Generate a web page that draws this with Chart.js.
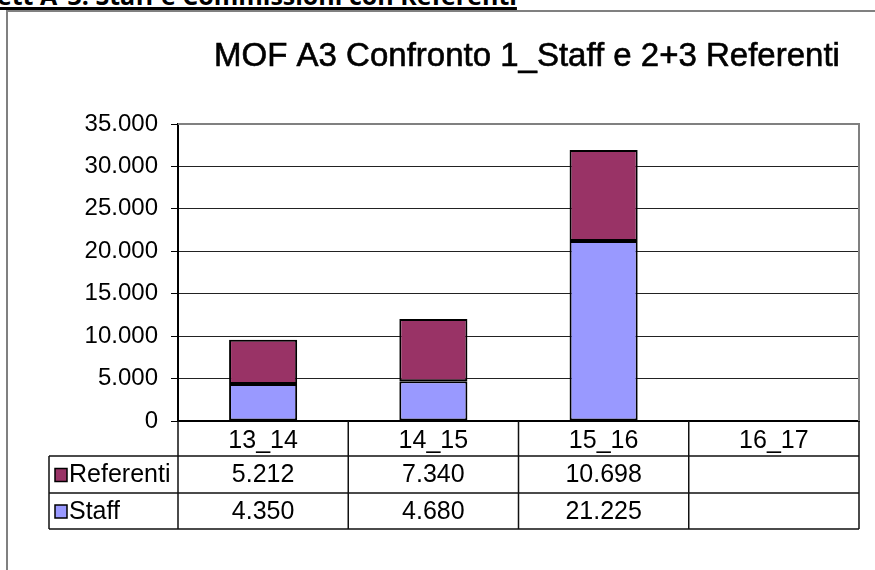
<!DOCTYPE html>
<html>
<head>
<meta charset="utf-8">
<script src="https://cdn.jsdelivr.net/npm/chart.js@4.4.1/dist/chart.umd.min.js"></script>
<style>
  html, body { margin: 0; padding: 0; background: #fff; }
  body { width: 875px; height: 570px; position: relative; overflow: hidden; }
  #heading { position: absolute; left: -3px; top: -17px; font-family: "Open Sans", sans-serif; font-weight: bold; font-size: 25px; line-height: 25px; white-space: nowrap; text-decoration: underline; text-decoration-thickness: 3px; text-underline-offset: 2px; color: #000; }
  #frame { position: absolute; left: 6px; top: 10px; width: 875px; height: 570px; border-left: 2px solid #808080; border-top: 2px solid #808080; }
  #wrap { position: absolute; left: 0; top: 0; width: 875px; height: 570px; }
</style>
</head>
<body>
<div id="frame"></div>
<div id="heading">ett A_3: Staff e Commissioni con Referenti</div>
<div id="wrap"><canvas id="c" width="875" height="570"></canvas></div>
<script>
const chartTitle = "MOF A3 Confronto 1_Staff e 2+3 Referenti";
const categories = ["13_14", "14_15", "15_16", "16_17"];
const staffValues = [4350, 4680, 21225, null];
const referentiValues = [5212, 7340, 10698, null];
const yTicks = [0, 5000, 10000, 15000, 20000, 25000, 30000, 35000];
const staffColor = "#9999FF";
const referentiColor = "#993366";

function fmt(v) {
  if (v === null || v === undefined) return "";
  return String(Math.round(v)).replace(/\B(?=(\d{3})+(?!\d))/g, ".");
}

const FONT = '"Liberation Sans", Arial, sans-serif';

const tablePlugin = {
  id: "tablePlugin",
  afterDraw(chart) {
    const ctx = chart.ctx;
    const xs = chart.scales.x;
    const ca = chart.chartArea;
    const n = categories.length;
    const cw = (ca.right - ca.left) / n;
    ctx.save();
    // title
    ctx.fillStyle = "#000";
    ctx.strokeStyle = "#000";
    ctx.lineWidth = 0.6;
    ctx.font = "33px " + FONT;
    ctx.textAlign = "center";
    ctx.textBaseline = "alphabetic";
    ctx.fillText(chartTitle, 527, 66);
    ctx.strokeText(chartTitle, 527, 66);

    // plot border top/right
    ctx.strokeStyle = "#808080";
    ctx.lineWidth = 2;
    ctx.beginPath();
    ctx.moveTo(ca.left, ca.top);
    ctx.lineTo(ca.right, ca.top);
    ctx.lineTo(ca.right, ca.bottom);
    ctx.stroke();

    // table
    const rowTop = ca.bottom;
    const r1 = 456, r2 = 493, r3 = 529;
    const leftX = 49;
    ctx.strokeStyle = "#111";
    ctx.lineWidth = 1.5;
    ctx.beginPath();
    ctx.moveTo(leftX, r1); ctx.lineTo(ca.right, r1);
    ctx.moveTo(leftX, r2); ctx.lineTo(ca.right, r2);
    ctx.moveTo(leftX, r3); ctx.lineTo(ca.right, r3);
    ctx.moveTo(leftX, r1); ctx.lineTo(leftX, r3);
    for (let i = 0; i <= n; i++) {
      const x = ca.left + i * cw;
      ctx.moveTo(x, rowTop); ctx.lineTo(x, r3);
    }
    ctx.stroke();

    const rows = [
      { name: "Referenti", values: referentiValues, color: referentiColor, top: r1, bottom: r2 },
      { name: "Staff", values: staffValues, color: staffColor, top: r2, bottom: r3 }
    ];
    ctx.font = "25px " + FONT;
    ctx.textBaseline = "middle";
    rows.forEach(r => {
      const cy = (r.top + r.bottom) / 2 + 1;
      ctx.fillStyle = r.color;
      ctx.fillRect(55, cy - 7, 12, 13);
      ctx.strokeStyle = "#000";
      ctx.lineWidth = 1.5;
      ctx.strokeRect(55, cy - 7, 12, 13);
      ctx.fillStyle = "#000";
      ctx.textAlign = "left";
      ctx.fillText(r.name, 69, cy);
      ctx.textAlign = "center";
      r.values.forEach((v, i) => {
        ctx.fillText(fmt(v), xs.getPixelForValue(i), cy);
      });
    });
    ctx.restore();
  }
};

new Chart(document.getElementById("c"), {
  type: "bar",
  data: {
    labels: categories,
    datasets: [
      { label: "Staff", data: staffValues, backgroundColor: staffColor, borderColor: "#000", borderWidth: 2, borderSkipped: false, categoryPercentage: 1, barPercentage: 0.4 },
      { label: "Referenti", data: referentiValues, backgroundColor: referentiColor, borderColor: "#000", borderWidth: 2, borderSkipped: false, categoryPercentage: 1, barPercentage: 0.4 }
    ]
  },
  options: {
    responsive: false,
    animation: false,
    devicePixelRatio: 1,
    layout: { padding: { left: 0, top: 124, right: 16, bottom: 0 } },
    plugins: { legend: { display: false }, title: { display: false }, tooltip: { enabled: false } },
    scales: {
      x: {
        stacked: true,
        offset: true,
        grid: { display: false, drawTicks: false },
        border: { display: true, color: "#000", width: 2 },
        ticks: { color: "#000", font: { family: FONT, size: 25 }, padding: 5, maxRotation: 0, autoSkip: false },
        afterFit(scale) { scale.height = 149; }
      },
      y: {
        stacked: true,
        min: 0,
        max: 35000,
        afterBuildTicks(scale) { scale.ticks = yTicks.map(v => ({ value: v })); },
        grid: {
          color: ctx => (ctx.tick && ctx.tick.value === 35000) ? "#808080" : "#222",
          lineWidth: 1,
          tickColor: "#000",
          tickLength: 7
        },
        border: { display: true, color: "#000", width: 2 },
        ticks: { color: "#000", font: { family: FONT, size: 24 }, padding: 13, callback: v => fmt(v) },
        afterFit(scale) { scale.width = 178; }
      }
    }
  },
  plugins: [tablePlugin]
});
</script>
</body>
</html>
